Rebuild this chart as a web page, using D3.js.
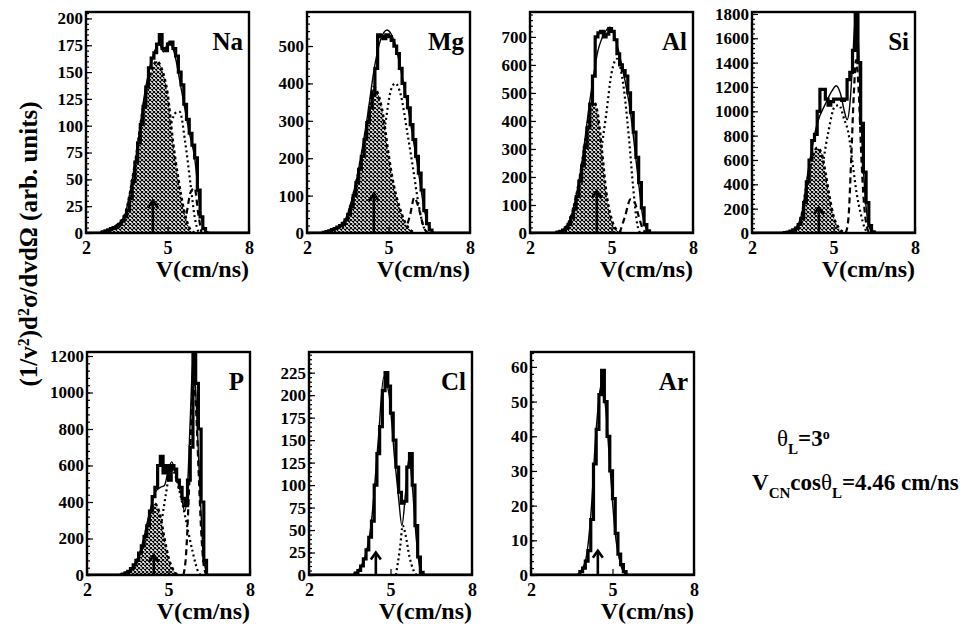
<!DOCTYPE html>
<html>
<head>
<meta charset="utf-8">
<script src="https://cdn.jsdelivr.net/npm/d3@7"></script>
<style>
  body { margin: 0; background: #fff; }
  svg text { font-family: "Liberation Serif", "Times New Roman", serif; font-weight: bold; fill: #000; }
</style>
</head>
<body>
<div class="fondo"></div>
<script>
// ---- datos ----
const elementos = ["Na", "Mg", "Al", "Si", "P", "Cl", "Ar"];
const topeY = [206, 591, 789, 1816, 1222, 248, 64.3];
const pasoY = [25, 100, 100, 200, 200, 25, 10];
const ticksX = [2, 5, 8];
const vCN = 4.46;
const flechas = [30, 105, 150, 210, 110, 25, 7];
const anchoBin = 0.1;

// histogramas (bins de 0.1 cm/ns desde inicioHist)
const inicioHist = [2.5, 2.6, 2.9, 3.1, 3.2, 3.6, 3.7];
const histNa = [0,1,2,3,4,5,6,8,11,15,21,32,48,66,84,101,118,136,154,163,168,176,185,172,170,176,178,172,165,150,138,120,106,93,82,70,40,15,4];
const histMg = [2,4,6,9,12,16,20,26,35,50,70,100,135,170,205,250,295,335,370,440,530,525,520,530,525,515,500,480,440,400,365,335,290,250,205,160,115,60,25,8];
const histAl = [0,3,6,10,18,30,55,85,130,185,240,305,375,460,560,700,715,720,700,710,730,720,690,640,600,580,560,500,430,360,270,180,90,30,8];
const histSi = [0,3,8,15,25,40,70,120,250,420,600,760,810,1000,1180,1180,1100,1050,1080,1100,1100,1100,1090,1100,1260,1320,1500,1800,1400,900,500,250,60,10];
const histP  = [0,5,12,20,35,55,80,120,160,210,270,350,430,480,600,650,560,600,520,600,580,520,480,420,380,520,700,1220,1050,800,400,80];
const histCl = [0,2,5,10,18,28,42,60,100,135,165,205,225,210,180,150,120,92,80,82,120,135,100,55,20,3];
const histAr = [0,1,2,4,7,16,32,42,52,59,50,40,30,22,12,6,3,1];

// ajuste total (linea fina)
const ajusteNa = [[2.5,0],[3.0,5],[3.4,15],[3.8,65],[4.2,136],[4.5,168],[4.7,176],[4.85,169],[5.05,178],[5.25,168],[5.5,135],[5.8,94],[6.0,70],[6.2,22],[6.4,2],[6.6,0]];
const ajusteMg = [[2.6,0],[3.0,10],[3.4,35],[3.8,135],[4.2,300],[4.5,450],[4.7,515],[4.95,543],[5.2,515],[5.5,420],[5.8,300],[6.1,165],[6.3,70],[6.5,15],[6.7,0]];
const ajusteAl = [[2.9,0],[3.2,10],[3.5,55],[3.9,245],[4.2,470],[4.5,650],[4.75,715],[4.95,735],[5.15,690],[5.4,590],[5.7,430],[5.95,220],[6.15,60],[6.35,5],[6.5,0]];
const ajusteSi = [[3.1,0],[3.5,20],[3.8,130],[4.1,560],[4.4,900],[4.7,1060],[4.95,1170],[5.1,1210],[5.25,1150],[5.4,1000],[5.5,930],[5.6,1050],[5.7,1380],[5.8,1750],[5.88,1700],[6.0,1000],[6.15,350],[6.3,60],[6.45,0]];
const ajusteP  = [[3.2,0],[3.6,30],[4.0,150],[4.3,340],[4.5,450],[4.7,480],[4.85,490],[5.0,580],[5.12,620],[5.25,560],[5.45,450],[5.6,350],[5.7,480],[5.8,850],[5.9,1180],[6.0,1000],[6.15,500],[6.3,80],[6.45,0]];
const ajusteCl = [[3.6,0],[4.0,15],[4.3,60],[4.55,150],[4.75,220],[4.95,200],[5.15,130],[5.3,85],[5.42,55],[5.55,90],[5.68,130],[5.8,100],[5.95,40],[6.1,5],[6.2,0]];
const ajusteAr = [[3.7,0],[4.0,4],[4.2,17],[4.4,42],[4.6,55],[4.75,48],[4.9,32],[5.1,12],[5.3,3],[5.5,0]];

// componente lenta (sombreada)
const sombraNa = [[2.5,0],[3.0,5],[3.4,15],[3.8,64],[4.1,116],[4.4,150],[4.6,160],[4.8,152],[5.0,130],[5.2,85],[5.4,50],[5.6,22],[5.8,5],[6.0,0]];
const sombraMg = [[2.6,0],[3.0,10],[3.4,33],[3.8,130],[4.1,245],[4.3,330],[4.45,390],[4.6,375],[4.8,315],[5.0,210],[5.2,125],[5.4,70],[5.6,30],[5.8,8],[6.0,0]];
const sombraAl = [[2.9,0],[3.2,10],[3.5,55],[3.8,180],[4.05,335],[4.2,430],[4.35,468],[4.5,420],[4.65,290],[4.8,150],[5.0,50],[5.2,10],[5.4,0]];
const sombraSi = [[3.1,0],[3.5,20],[3.8,120],[4.0,380],[4.2,600],[4.4,700],[4.55,660],[4.7,500],[4.85,300],[5.0,140],[5.2,40],[5.4,5],[5.5,0]];
const sombraP  = [[3.2,0],[3.6,25],[4.0,140],[4.2,260],[4.4,370],[4.5,390],[4.6,370],[4.7,320],[4.85,200],[5.0,95],[5.15,35],[5.3,5],[5.4,0]];

// componente intermedia (punteada)
const puntosNa = [[4.0,0],[4.3,12],[4.6,40],[5.0,88],[5.3,112],[5.45,113],[5.65,85],[5.85,45],[6.0,15],[6.15,0]];
const puntosMg = [[3.8,0],[4.2,30],[4.6,140],[4.9,300],[5.1,385],[5.25,400],[5.45,370],[5.7,265],[5.9,175],[6.1,80],[6.3,15],[6.45,0]];
const puntosAl = [[3.8,0],[4.2,60],[4.5,220],[4.8,420],[5.0,570],[5.2,622],[5.35,580],[5.5,478],[5.65,330],[5.8,160],[5.95,30],[6.05,0]];
const puntosSi = [[3.8,0],[4.2,100],[4.5,420],[4.8,820],[5.05,1040],[5.2,1050],[5.4,930],[5.55,820],[5.7,580],[5.85,330],[6.0,160],[6.15,40],[6.3,0]];
const puntosP  = [[4.0,0],[4.4,60],[4.7,250],[4.9,440],[5.05,560],[5.15,575],[5.3,520],[5.45,430],[5.6,330],[5.75,220],[5.9,120],[6.0,60],[6.1,15],[6.2,0]];
const puntosCl = [[5.2,0],[5.35,30],[5.45,55],[5.55,45],[5.7,20],[5.85,5],[5.95,0]];

// componente rapida (rayas)
const rayasNa = [[5.5,0],[5.7,18],[5.85,38],[6.0,42],[6.12,20],[6.25,0]];
const rayasMg = [[5.6,0],[5.8,50],[5.95,95],[6.1,70],[6.3,15],[6.45,0]];
const rayasAl = [[5.3,0],[5.5,60],[5.7,120],[5.85,110],[6.0,60],[6.15,15],[6.3,0]];
const rayasSi = [[5.45,0],[5.55,120],[5.65,600],[5.75,1150],[5.83,1420],[5.92,1200],[6.02,650],[6.12,250],[6.22,60],[6.32,0]];
const rayasP  = [[5.55,0],[5.65,120],[5.75,450],[5.85,900],[5.92,1080],[6.0,950],[6.1,600],[6.2,250],[6.3,50],[6.4,0]];

const hists = [histNa, histMg, histAl, histSi, histP, histCl, histAr];
const ajustes = [ajusteNa, ajusteMg, ajusteAl, ajusteSi, ajusteP, ajusteCl, ajusteAr];
const sombras = [sombraNa, sombraMg, sombraAl, sombraSi, sombraP, null, null];
const punteadas = [puntosNa, puntosMg, puntosAl, puntosSi, puntosP, puntosCl, null];
const rayadas = [rayasNa, rayasMg, rayasAl, rayasSi, rayasP, null, null];

// ---- dibujo ----
const marcos = [
  { x: 86, y: 12, h: 221 }, { x: 307, y: 12, h: 221 }, { x: 530, y: 12, h: 221 }, { x: 752, y: 12, h: 221 },
  { x: 87, y: 352, h: 223 }, { x: 309, y: 352, h: 223 }, { x: 531, y: 352, h: 223 }
];
const ancho = 163;

var svg = d3.select('.fondo')
  .append('svg')
  .attr('width', 963)
  .attr('height', 631);

var defs = svg.append('defs');
var trama = defs.append('pattern')
  .attr('id', 'trama')
  .attr('patternUnits', 'userSpaceOnUse')
  .attr('width', 4)
  .attr('height', 4);
trama.append('rect').attr('width', 4).attr('height', 4).attr('fill', '#fff');
trama.append('path').attr('d', 'M0,0L4,4M4,0L0,4').attr('stroke', '#000').attr('stroke-width', 1.1);

elementos.forEach(function (el, i) {
  var m = marcos[i];
  var alto = m.h;
  var x = d3.scaleLinear().domain([2, 8]).range([0, ancho]);
  var y = d3.scaleLinear().domain([0, topeY[i]]).range([alto, 0]);

  var g = svg.append('g').attr('transform', 'translate(' + m.x + ',' + m.y + ')');

  defs.append('clipPath').attr('id', 'clip' + i)
    .append('rect').attr('width', ancho).attr('height', alto);

  var dentro = g.append('g').attr('clip-path', 'url(#clip' + i + ')');

  var linea = d3.line().x(d => x(d[0])).y(d => y(d[1])).curve(d3.curveMonotoneX);

  if (punteadas[i]) {
    dentro.append('path').attr('d', linea(punteadas[i]))
      .attr('fill', 'none').attr('stroke', '#000').attr('stroke-width', 2.2)
      .attr('stroke-dasharray', '2,3');
  }
  if (rayadas[i]) {
    dentro.append('path').attr('d', linea(rayadas[i]))
      .attr('fill', 'none').attr('stroke', '#000').attr('stroke-width', 2.2)
      .attr('stroke-dasharray', '6,4');
  }
  if (sombras[i]) {
    var area = d3.area().x(d => x(d[0])).y0(alto).y1(d => y(d[1])).curve(d3.curveMonotoneX);
    dentro.append('path').attr('d', area(sombras[i])).attr('fill', 'url(#trama)');
    dentro.append('path').attr('d', linea(sombras[i]))
      .attr('fill', 'none').attr('stroke', '#000').attr('stroke-width', 2.6)
      .attr('stroke-dasharray', '3,3');
  }

  // histograma
  var h0 = inicioHist[i];
  var puntosHist = [[2, 0]];
  hists[i].forEach(function (v, k) { puntosHist.push([h0 + k * anchoBin, v]); });
  puntosHist.push([h0 + hists[i].length * anchoBin, 0]);
  puntosHist.push([8, 0]);
  var escalon = d3.line().x(d => x(d[0])).y(d => y(d[1])).curve(d3.curveStepAfter);
  dentro.append('path').attr('d', escalon(puntosHist))
    .attr('fill', 'none').attr('stroke', '#000').attr('stroke-width', 3.2)
    .attr('stroke-linejoin', 'miter');

  // ajuste
  dentro.append('path').attr('d', linea(ajustes[i]))
    .attr('fill', 'none').attr('stroke', '#000').attr('stroke-width', 1.4);

  // flecha en V_CN cos(theta)
  var fx = x(vCN), fy = y(flechas[i]);
  dentro.append('line')
    .attr('x1', fx).attr('x2', fx).attr('y1', alto).attr('y2', fy + 1)
    .attr('stroke', '#000').attr('stroke-width', 2.6);
  dentro.append('path')
    .attr('d', 'M' + (fx - 5) + ',' + (fy + 7) + 'L' + fx + ',' + fy + 'L' + (fx + 5) + ',' + (fy + 7))
    .attr('fill', 'none').attr('stroke', '#000').attr('stroke-width', 2.6);

  // ejes
  var valoresY = d3.range(0, topeY[i] + 1e-6, pasoY[i]);
  var menoresY = d3.range(0, topeY[i] + 1e-6, pasoY[i] / 5);

  g.append('g')
    .call(d3.axisLeft(y).tickValues(menoresY).tickSize(-3).tickFormat(''))
    .call(s => s.select('.domain').remove());

  g.append('g')
    .attr('class', 'ejeY')
    .call(d3.axisLeft(y).tickValues(valoresY).tickSize(-6).tickPadding(3).tickFormat(d3.format('d')))
    .call(s => s.select('.domain').remove())
    .selectAll('text')
    .style('font-size', '17px');

  g.append('g')
    .attr('transform', 'translate(0,' + alto + ')')
    .call(d3.axisBottom(x).tickValues(ticksX).tickSize(-6).tickPadding(8).tickFormat(d3.format('d')))
    .call(s => s.select('.domain').remove())
    .selectAll('text')
    .style('font-size', '18px');

  g.selectAll('.tick line').attr('stroke', '#000').attr('stroke-width', 1.2);

  g.append('rect')
    .attr('width', ancho).attr('height', alto)
    .attr('fill', 'none').attr('stroke', '#000').attr('stroke-width', 2.4);

  g.append('text')
    .attr('x', ancho - 6).attr('y', 38)
    .attr('text-anchor', 'end')
    .style('font-size', '25px')
    .text(el);

  g.append('text')
    .attr('x', ancho)
    .attr('y', alto + 44)
    .attr('text-anchor', 'end')
    .style('font-size', '24px')
    .text('V(cm/ns)');
});

// titulo eje Y
var ty = svg.append('text')
  .attr('transform', 'translate(37,244) rotate(-90)')
  .attr('text-anchor', 'middle')
  .style('font-size', '25px');
ty.append('tspan').text('(1/v');
ty.append('tspan').attr('baseline-shift', 'super').style('font-size', '16px').text('2');
ty.append('tspan').text(')d');
ty.append('tspan').attr('baseline-shift', 'super').style('font-size', '16px').text('2');
ty.append('tspan').text('σ/dvdΩ (arb. units)');

// anotaciones
var t1 = svg.append('text').attr('x', 777).attr('y', 446).style('font-size', '23px');
t1.append('tspan').style('font-weight', 'normal').text('θ');
t1.append('tspan').attr('baseline-shift', 'sub').style('font-size', '15px').text('L');
t1.append('tspan').text('=3');
t1.append('tspan').attr('baseline-shift', 'super').style('font-size', '14px').text('o');

var t2 = svg.append('text').attr('x', 752).attr('y', 490).style('font-size', '23px');
t2.append('tspan').text('V');
t2.append('tspan').attr('baseline-shift', 'sub').style('font-size', '15px').text('CN');
t2.append('tspan').text('cos');
t2.append('tspan').style('font-weight', 'normal').text('θ');
t2.append('tspan').attr('baseline-shift', 'sub').style('font-size', '15px').text('L');
t2.append('tspan').text('=4.46 cm/ns');
</script>
</body>
</html>
